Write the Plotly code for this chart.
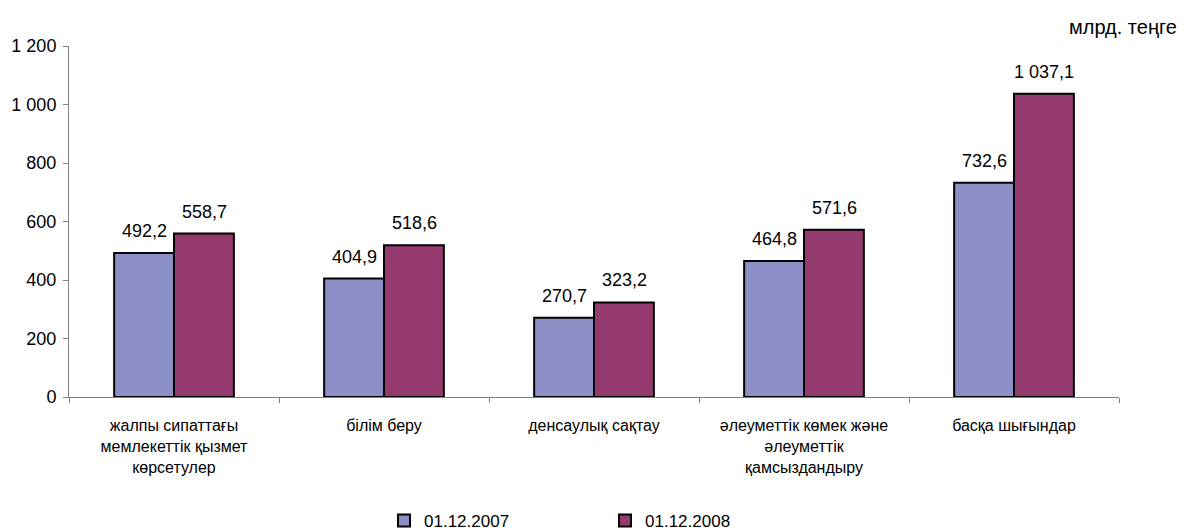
import plotly.graph_objects as go

categories = [
    "жалпы сипаттағы<br>мемлекеттік қызмет<br>көрсетулер",
    "білім беру",
    "денсаулық сақтау",
    "әлеуметтік көмек және<br>әлеуметтік<br>қамсыздандыру",
    "басқа шығындар",
]
series_names = ["01.12.2007", "01.12.2008"]
values_2007 = [492.2, 404.9, 270.7, 464.8, 732.6]
values_2008 = [558.7, 518.6, 323.2, 571.6, 1037.1]
y_ticks = [0, 200, 400, 600, 800, 1000, 1200]
unit_label = "млрд. теңге"

colors = ["#8C8FC6", "#953A6E"]
font_family = "Liberation Sans, Arial, sans-serif"


def fmt(v):
    s = f"{v:,.1f}"
    return s.replace(",", " ").replace(".", ",")


fig = go.Figure()
annotations = []
for i, (name, vals, col) in enumerate(zip(series_names, [values_2007, values_2008], colors)):
    fig.add_trace(go.Bar(
        x=categories, y=vals, name=name,
        marker=dict(color=col, line=dict(color="#000000", width=2)),
    ))
    shift = -30 if i == 0 else 30
    for c, v in zip(categories, vals):
        annotations.append(dict(
            x=c, y=v, xref="x", yref="y", text=fmt(v), showarrow=False,
            xanchor="center", yanchor="middle", xshift=shift, yshift=22,
            font=dict(size=18, color="#000000", family=font_family),
        ))

annotations.append(dict(text=unit_label, xref="paper", yref="paper", x=1.0, y=1.0,
                        xanchor="left", yanchor="bottom", xshift=-52, yshift=6,
                        showarrow=False, font=dict(size=20, family=font_family)))

fig.update_layout(
    width=1191, height=532,
    margin=dict(l=61, r=80, t=38, b=143),
    paper_bgcolor="white", plot_bgcolor="white",
    separators=", ",
    barmode="group", bargap=0.43, bargroupgap=0,
    font=dict(family=font_family, size=16, color="#000000"),
    showlegend=True,
    legend=dict(orientation="h", x=0.300, xanchor="left",
                yref="container", y=0.036, yanchor="middle",
                entrywidth=176, entrywidthmode="pixels",
                font=dict(size=17, family=font_family), itemwidth=30,
                traceorder="normal"),
    annotations=annotations,
)
fig.update_yaxes(range=[0, 1200], tickvals=y_ticks, tickformat=",d",
                 showgrid=False, zeroline=False, showline=True, automargin=False,
                 linecolor="#808080", linewidth=1, ticks="outside", ticklen=5,
                 tickcolor="#808080", tickfont=dict(size=18), ticklabelstandoff=3)
fig.update_xaxes(showgrid=False, showline=True, linecolor="#808080", linewidth=1,
                 automargin=False,
                 ticks="outside", ticklen=5, tickcolor="#808080", tickson="boundaries",
                 tickfont=dict(size=16), ticklabelstandoff=14)

fig.write_html("out.html")
